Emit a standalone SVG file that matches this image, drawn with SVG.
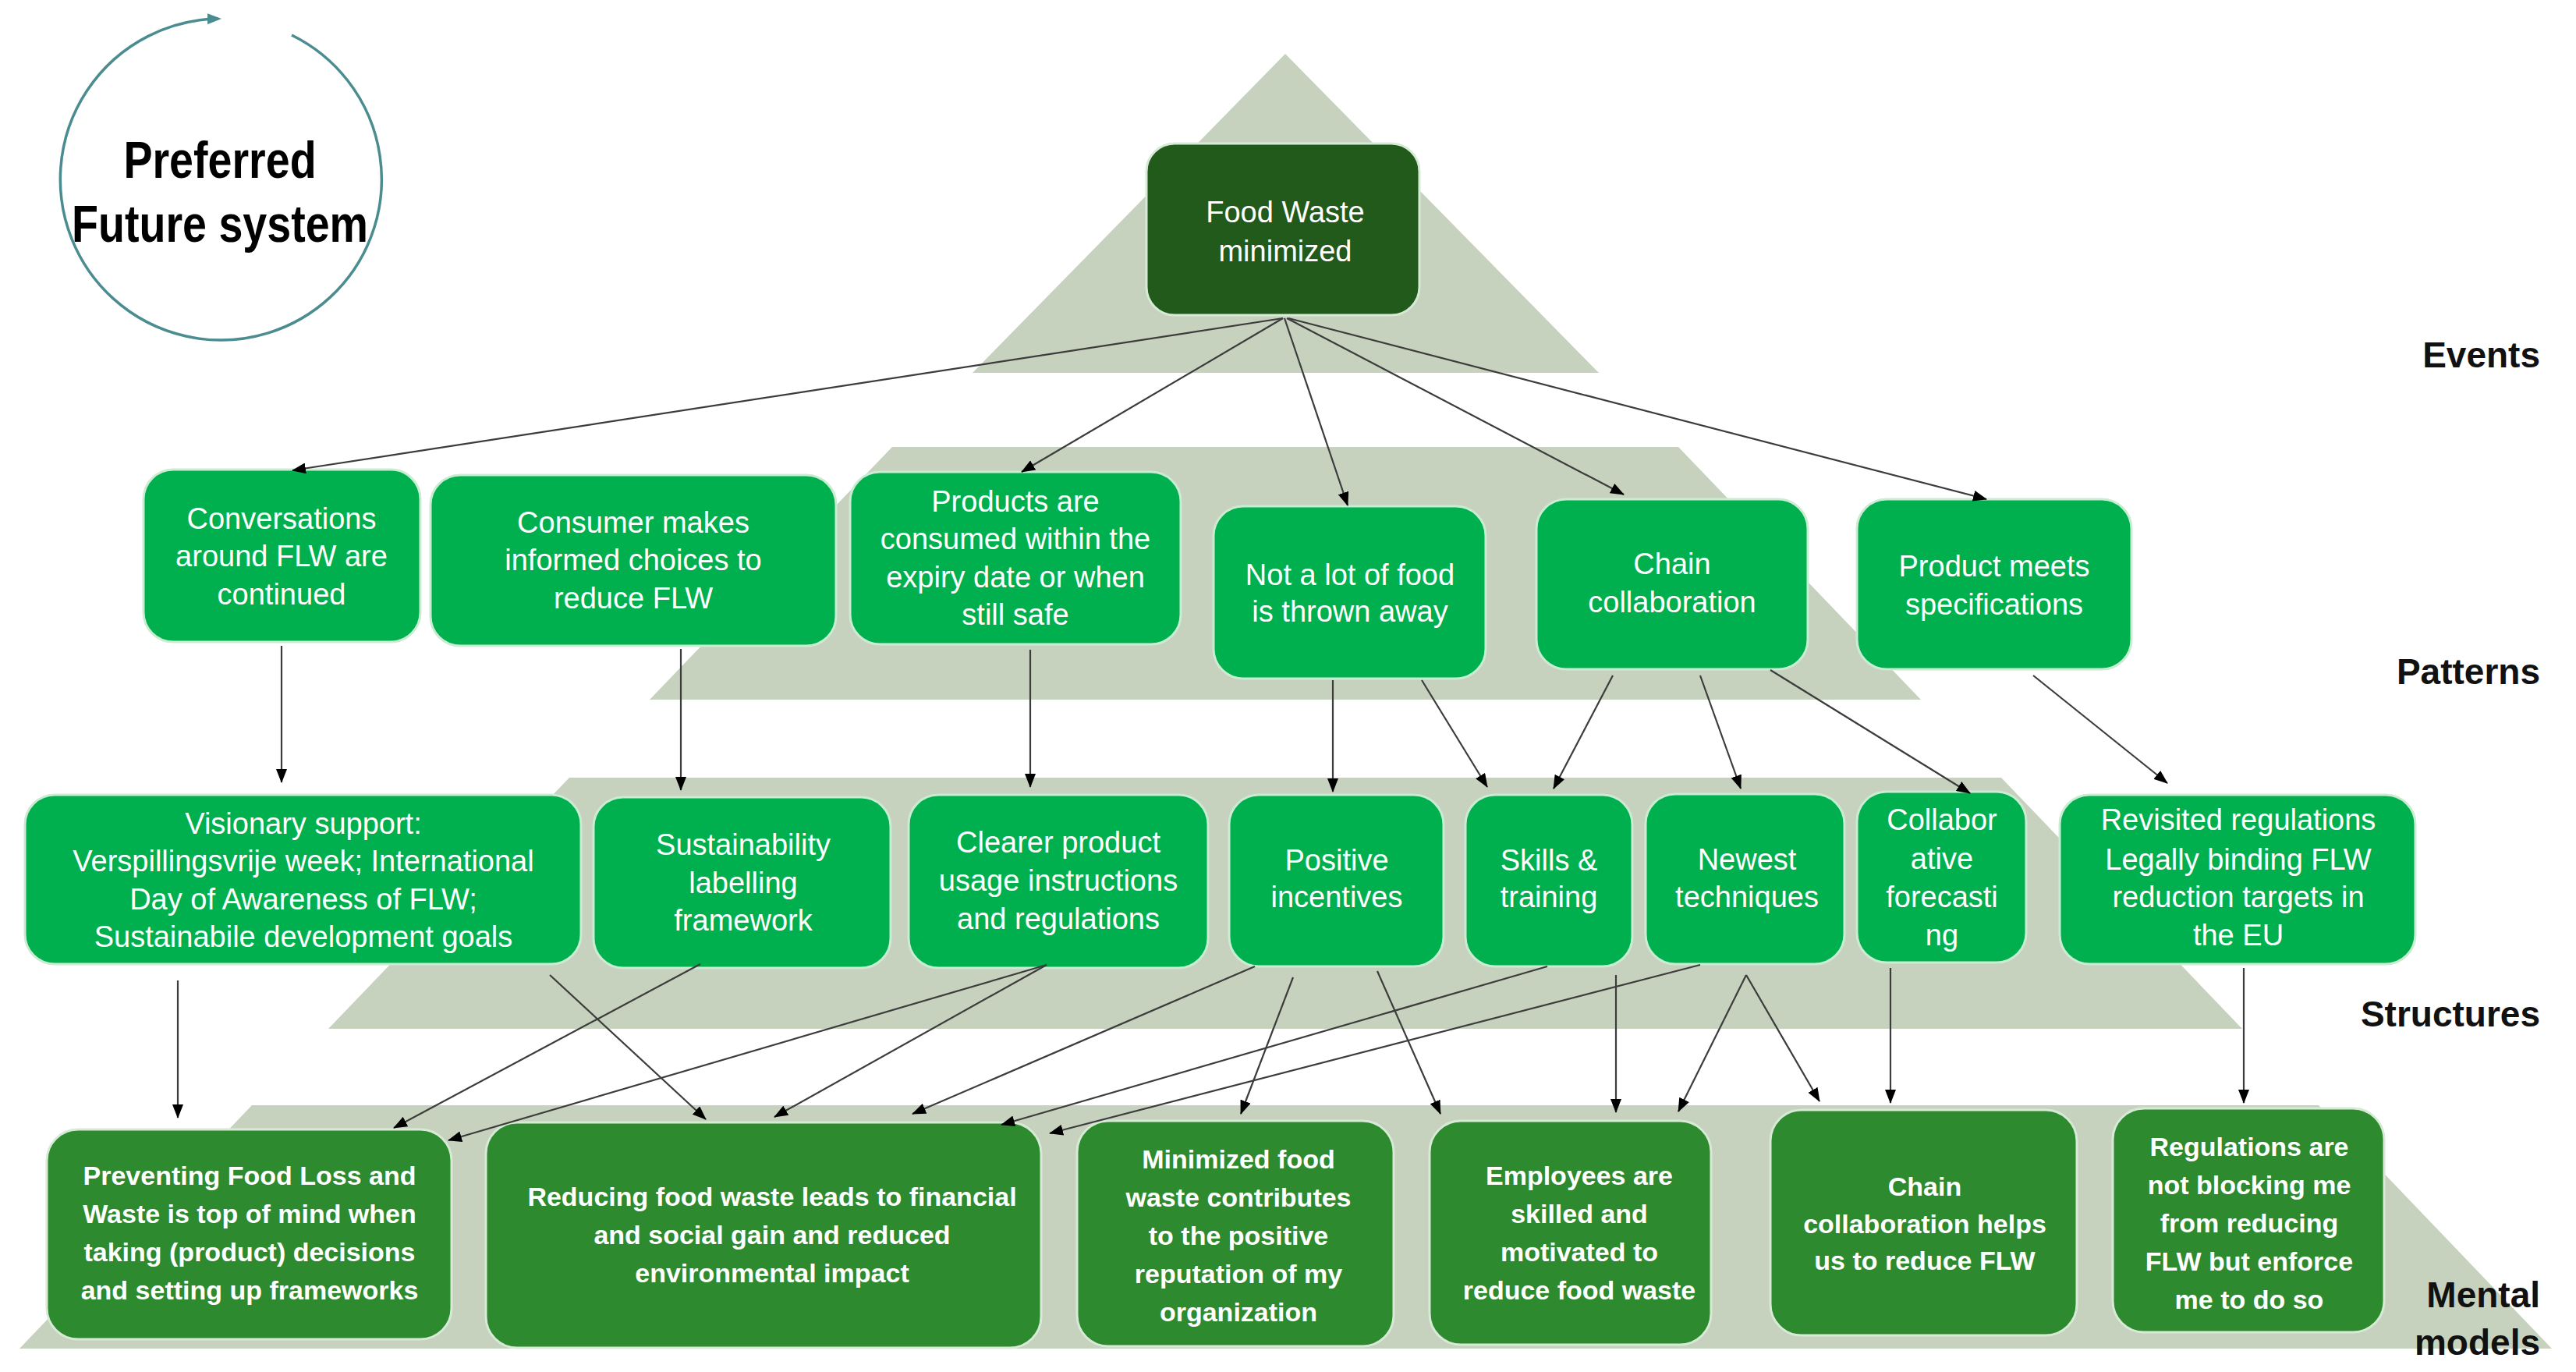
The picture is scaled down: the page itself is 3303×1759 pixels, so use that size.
<svg xmlns="http://www.w3.org/2000/svg" width="3303" height="1759" viewBox="0 0 3303 1759">
<defs>
<style>
.pyr{fill:#c6d2bd}
.mid{fill:#00b04f;stroke:#c9ecd3;stroke-width:3}
.low{fill:#2e8a2e;stroke:#d6ead6;stroke-width:3}
.top{fill:#215a1a;stroke:#d6ead6;stroke-width:3}
.t{font-family:"Liberation Sans",Arial,sans-serif;font-size:38px;fill:#ffffff;text-anchor:middle}
.tb{font-family:"Liberation Sans",Arial,sans-serif;font-size:34px;font-weight:bold;fill:#ffffff;text-anchor:middle}
.lbl{font-family:"Liberation Sans",Arial,sans-serif;font-size:46px;font-weight:bold;fill:#111111;text-anchor:end}
.title{font-family:"Liberation Sans",Arial,sans-serif;font-size:67px;font-weight:bold;fill:#000000;text-anchor:middle}
.c{stroke:#3c3c3c;stroke-width:2.2;fill:none;marker-end:url(#ah)}
</style>
<marker id="ah" markerUnits="userSpaceOnUse" markerWidth="18" markerHeight="14" refX="17" refY="7" orient="auto">
<path d="M0,0 L18,7 L0,14 z" fill="#000000"/>
</marker>
<marker id="ahc" markerUnits="userSpaceOnUse" markerWidth="18" markerHeight="14" refX="14" refY="7" orient="auto">
<path d="M0,0 L18,7 L0,14 z" fill="#4a8c8f"/>
</marker>
</defs>
<rect width="3303" height="1759" fill="#ffffff"/>

<g id="pyramid">
<polygon class="pyr" points="1648,69 2050,478 1247,478"/>
<polygon class="pyr" points="1144,573 2152,573 2463,897 833,897"/>
<polygon class="pyr" points="730,997 2566,997 2875,1319 421,1319"/>
<polygon class="pyr" points="323,1417 2973,1417 3272,1729 25,1729"/>
</g>

<g id="title">
<path d="M374,45 A206,206 0 1 1 280,24" fill="none" stroke="#4a8c8f" stroke-width="3.5" marker-end="url(#ahc)"/>
<g transform="translate(282,0) scale(0.83,1)">
<text class="title" x="0" y="228">Preferred</text>
<text class="title" x="0" y="310">Future system</text>
</g>
</g>

<g id="levels">
<text class="lbl" x="3257" y="471">Events</text>
<text class="lbl" x="3257" y="877">Patterns</text>
<text class="lbl" x="3257" y="1316">Structures</text>
<text class="lbl" x="3257" y="1676">Mental</text>
<text class="lbl" x="3257" y="1737">models</text>
</g>

<g id="n-food-waste">
<rect class="top" x="1470" y="184" width="350" height="220" rx="36"/>
<text class="t" x="1648" y="285" font-size="37">Food Waste</text>
<text class="t" x="1648" y="335" font-size="37">minimized</text>
</g>

<g id="n-conversations">
<rect class="mid" x="184" y="602" width="355" height="221" rx="38"/>
<text class="t" x="361" y="678">Conversations</text>
<text class="t" x="361" y="726">around FLW are</text>
<text class="t" x="361" y="775">continued</text>
</g>
<g id="n-consumer">
<rect class="mid" x="552" y="609" width="520" height="219" rx="38"/>
<text class="t" x="812" y="683">Consumer makes</text>
<text class="t" x="812" y="731">informed choices to</text>
<text class="t" x="812" y="780">reduce FLW</text>
</g>
<g id="n-products">
<rect class="mid" x="1090" y="605" width="424" height="221" rx="38"/>
<text class="t" x="1302" y="656">Products are</text>
<text class="t" x="1302" y="704">consumed within the</text>
<text class="t" x="1302" y="753">expiry date or when</text>
<text class="t" x="1302" y="801">still safe</text>
</g>
<g id="n-not-a-lot">
<rect class="mid" x="1556" y="649" width="349" height="221" rx="38"/>
<text class="t" x="1731" y="750">Not a lot of food</text>
<text class="t" x="1731" y="797">is thrown away</text>
</g>
<g id="n-chain">
<rect class="mid" x="1970" y="640" width="348" height="218" rx="38"/>
<text class="t" x="2144" y="736">Chain</text>
<text class="t" x="2144" y="785">collaboration</text>
</g>
<g id="n-product-meets">
<rect class="mid" x="2381" y="640" width="352" height="218" rx="38"/>
<text class="t" x="2557" y="739">Product meets</text>
<text class="t" x="2557" y="788">specifications</text>
</g>

<g id="n-visionary">
<rect class="mid" x="32" y="1019" width="713" height="217" rx="38"/>
<text class="t" x="389" y="1069">Visionary support:</text>
<text class="t" x="389" y="1117">Verspillingsvrije week; International</text>
<text class="t" x="389" y="1166">Day of Awareness of FLW;</text>
<text class="t" x="389" y="1214">Sustainabile development goals</text>
</g>
<g id="n-sustainability">
<rect class="mid" x="761" y="1022" width="381" height="219" rx="38"/>
<text class="t" x="953" y="1096">Sustainability</text>
<text class="t" x="953" y="1145">labelling</text>
<text class="t" x="953" y="1193">framework</text>
</g>
<g id="n-clearer">
<rect class="mid" x="1165" y="1019" width="384" height="222" rx="38"/>
<text class="t" x="1357" y="1093">Clearer product</text>
<text class="t" x="1357" y="1142">usage instructions</text>
<text class="t" x="1357" y="1191">and regulations</text>
</g>
<g id="n-positive">
<rect class="mid" x="1576" y="1019" width="275" height="220" rx="38"/>
<text class="t" x="1714" y="1116">Positive</text>
<text class="t" x="1714" y="1163">incentives</text>
</g>
<g id="n-skills">
<rect class="mid" x="1879" y="1019" width="214" height="220" rx="38"/>
<text class="t" x="1986" y="1116">Skills &amp;</text>
<text class="t" x="1986" y="1163">training</text>
</g>
<g id="n-newest">
<rect class="mid" x="2110" y="1018" width="255" height="218" rx="38"/>
<text class="t" x="2240" y="1115">Newest</text>
<text class="t" x="2240" y="1163">techniques</text>
</g>
<g id="n-collaborative">
<rect class="mid" x="2381" y="1015" width="217" height="219" rx="38"/>
<text class="t" x="2490" y="1064">Collabor</text>
<text class="t" x="2490" y="1114">ative</text>
<text class="t" x="2490" y="1163">forecasti</text>
<text class="t" x="2490" y="1212">ng</text>
</g>
<g id="n-revisited">
<rect class="mid" x="2641" y="1019" width="456" height="217" rx="38"/>
<text class="t" x="2870" y="1064">Revisited regulations</text>
<text class="t" x="2870" y="1115">Legally binding FLW</text>
<text class="t" x="2870" y="1163">reduction targets in</text>
<text class="t" x="2870" y="1212">the EU</text>
</g>

<g id="n-preventing">
<rect class="low" x="60" y="1448" width="519" height="269" rx="40"/>
<text class="tb" x="320" y="1519">Preventing Food Loss and</text>
<text class="tb" x="320" y="1568">Waste is top of mind when</text>
<text class="tb" x="320" y="1617">taking (product) decisions</text>
<text class="tb" x="320" y="1666">and setting up frameworks</text>
</g>
<g id="n-reducing">
<rect class="low" x="623" y="1439" width="712" height="289" rx="40"/>
<text class="tb" x="990" y="1546">Reducing food waste leads to financial</text>
<text class="tb" x="990" y="1595">and social gain and reduced</text>
<text class="tb" x="990" y="1644">environmental impact</text>
</g>
<g id="n-minimized">
<rect class="low" x="1381" y="1437" width="406" height="289" rx="40"/>
<text class="tb" x="1588" y="1498">Minimized food</text>
<text class="tb" x="1588" y="1547">waste contributes</text>
<text class="tb" x="1588" y="1596">to the positive</text>
<text class="tb" x="1588" y="1645">reputation of my</text>
<text class="tb" x="1588" y="1694">organization</text>
</g>
<g id="n-employees">
<rect class="low" x="1833" y="1437" width="361" height="287" rx="40"/>
<text class="tb" x="2025" y="1519">Employees are</text>
<text class="tb" x="2025" y="1568">skilled and</text>
<text class="tb" x="2025" y="1617">motivated to</text>
<text class="tb" x="2025" y="1666">reduce food waste</text>
</g>
<g id="n-chain-helps">
<rect class="low" x="2270" y="1423" width="393" height="289" rx="40"/>
<text class="tb" x="2468" y="1533">Chain</text>
<text class="tb" x="2468" y="1581">collaboration helps</text>
<text class="tb" x="2468" y="1628">us to reduce FLW</text>
</g>
<g id="n-regulations">
<rect class="low" x="2709" y="1421" width="348" height="287" rx="40"/>
<text class="tb" x="2884" y="1482">Regulations are</text>
<text class="tb" x="2884" y="1531">not blocking me</text>
<text class="tb" x="2884" y="1580">from reducing</text>
<text class="tb" x="2884" y="1629">FLW but enforce</text>
<text class="tb" x="2884" y="1678">me to do so</text>
</g>

<g id="connectors">
<line class="c" x1="1645" y1="408" x2="375" y2="603"/>
<line class="c" x1="1645" y1="408" x2="1310" y2="605"/>
<line class="c" x1="1647" y1="408" x2="1728" y2="648"/>
<line class="c" x1="1650" y1="408" x2="2082" y2="634"/>
<line class="c" x1="1652" y1="408" x2="2547" y2="640"/>

<line class="c" x1="361" y1="828" x2="361" y2="1003"/>
<line class="c" x1="873" y1="832" x2="873" y2="1013"/>
<line class="c" x1="1321" y1="833" x2="1321" y2="1009"/>
<line class="c" x1="1709" y1="872" x2="1709" y2="1015"/>
<line class="c" x1="1823" y1="872" x2="1907" y2="1009"/>
<line class="c" x1="2068" y1="866" x2="1992" y2="1011"/>
<line class="c" x1="2180" y1="866" x2="2232" y2="1011"/>
<line class="c" x1="2270" y1="859" x2="2526" y2="1017"/>
<line class="c" x1="2607" y1="866" x2="2779" y2="1004"/>

<line class="c" x1="228" y1="1257" x2="228" y2="1433"/>
<line class="c" x1="898" y1="1236" x2="505" y2="1446"/>
<line class="c" x1="705" y1="1250" x2="905" y2="1435"/>
<line class="c" x1="1342" y1="1237" x2="575" y2="1462"/>
<line class="c" x1="1342" y1="1237" x2="993" y2="1432"/>
<line class="c" x1="1609" y1="1239" x2="1170" y2="1428"/>
<line class="c" x1="1658" y1="1253" x2="1591" y2="1428"/>
<line class="c" x1="1766" y1="1245" x2="1847" y2="1428"/>
<line class="c" x1="1984" y1="1239" x2="1284" y2="1442"/>
<line class="c" x1="2180" y1="1237" x2="1346" y2="1453"/>
<line class="c" x1="2072" y1="1250" x2="2072" y2="1426"/>
<line class="c" x1="2239" y1="1250" x2="2152" y2="1425"/>
<line class="c" x1="2239" y1="1250" x2="2333" y2="1412"/>
<line class="c" x1="2424" y1="1241" x2="2424" y2="1414"/>
<line class="c" x1="2877" y1="1241" x2="2877" y2="1414"/>
</g>
</svg>
